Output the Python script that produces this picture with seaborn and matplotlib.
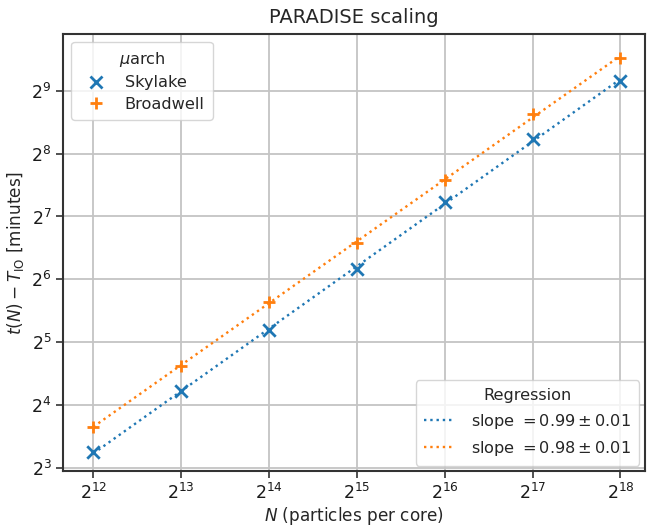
import numpy as np
import pandas as pd
import matplotlib
matplotlib.use("Agg")
import matplotlib.pyplot as plt
import seaborn as sns
from matplotlib.lines import Line2D

# ---- data ----
exponents = [12, 13, 14, 15, 16, 17, 18]
particles = [2 ** e for e in exponents]
skylake_minutes = [9.5, 18.6, 36.7, 71.4, 150.0, 302.0, 572.0]
broadwell_minutes = [12.6, 24.7, 49.7, 95.9, 191.0, 395.0, 739.0]
series_names = ["Skylake", "Broadwell"]
slope_labels = [r"slope $= 0.99 \pm 0.01$", r"slope $= 0.98 \pm 0.01$"]
colors = ["#1f77b4", "#ff7f0e"]

df = pd.DataFrame({
    "N": particles * 2,
    "t": skylake_minutes + broadwell_minutes,
    "arch": [series_names[0]] * len(particles) + [series_names[1]] * len(particles),
})

sns.set_theme(style="ticks")
plt.rcParams["font.family"] = ["DejaVu Sans"]
plt.rcParams["mathtext.fontset"] = "dejavusans"

fig = plt.figure(figsize=(6.47, 5.26), dpi=100)
ax = fig.add_axes([0.098, 0.104, 0.899, 0.832])

ax.set_xscale("log", base=2)
ax.set_yscale("log", base=2)

# regression lines (fit in log2 space)
line_handles = []
for name, col, lab in zip(series_names, colors, slope_labels):
    sub = df[df["arch"] == name]
    coef = np.polyfit(np.log2(sub["N"]), np.log2(sub["t"]), 1)
    fit = 2 ** np.polyval(coef, np.log2(sub["N"]))
    sns.lineplot(x=sub["N"].values, y=fit, ax=ax, color=col, linestyle=":",
                 linewidth=1.7, legend=False, zorder=2)
    line_handles.append(Line2D([], [], color=col, linestyle=":", linewidth=1.7, label=lab))

# data points
mk = {"Skylake": "x", "Broadwell": "+"}
point_handles = []
for name, col in zip(series_names, colors):
    sub = df[df["arch"] == name]
    sns.scatterplot(data=sub, x="N", y="t", ax=ax, color=col, marker=mk[name],
                    s=80, linewidth=2.0, legend=False, zorder=3)
    point_handles.append(Line2D([], [], color=col, marker=mk[name], linestyle="none",
                                markersize=9, markeredgewidth=2.0, label=name))

ax.set_xlim(2 ** 11.66, 2 ** 18.28)
ax.set_ylim(2 ** 2.944, 2 ** 9.91)
ax.set_xticks(particles)
ax.set_yticks([2 ** e for e in range(3, 10)])

ax.grid(True, color="#c4c4c4", linewidth=1.3)
ax.set_axisbelow(True)
for sp in ax.spines.values():
    sp.set_color("#333333")
    sp.set_linewidth(1.5)
ax.tick_params(axis="both", which="major", labelsize=12.5, length=5, width=1.2,
               color="#333333", labelcolor="#1a1a1a")
ax.tick_params(axis="both", which="minor", length=0)

ax.set_title("PARADISE scaling", fontsize=14, pad=8)
ax.set_xlabel(r"$N$ (particles per core)", fontsize=12.2, labelpad=1)
ax.set_ylabel(r"$t(N) - T_\mathrm{IO}$ [minutes]", fontsize=12.2)

leg1 = ax.legend(handles=point_handles, title=r"$\mu$arch", loc="upper left",
                 fontsize=11.6, title_fontsize=11.6, frameon=True, framealpha=0.8,
                 handletextpad=0.8, borderpad=0.5, labelspacing=0.4)
leg1.get_frame().set_edgecolor("#cccccc")
ax.add_artist(leg1)
leg2 = ax.legend(handles=line_handles, title="Regression", loc="lower right",
                 fontsize=11.6, title_fontsize=11.6, frameon=True, framealpha=0.8,
                 handlelength=1.75, handletextpad=1.2, borderpad=0.5,
                 borderaxespad=0.35)
leg2.get_frame().set_edgecolor("#cccccc")

fig.savefig("out.png", dpi=100)
